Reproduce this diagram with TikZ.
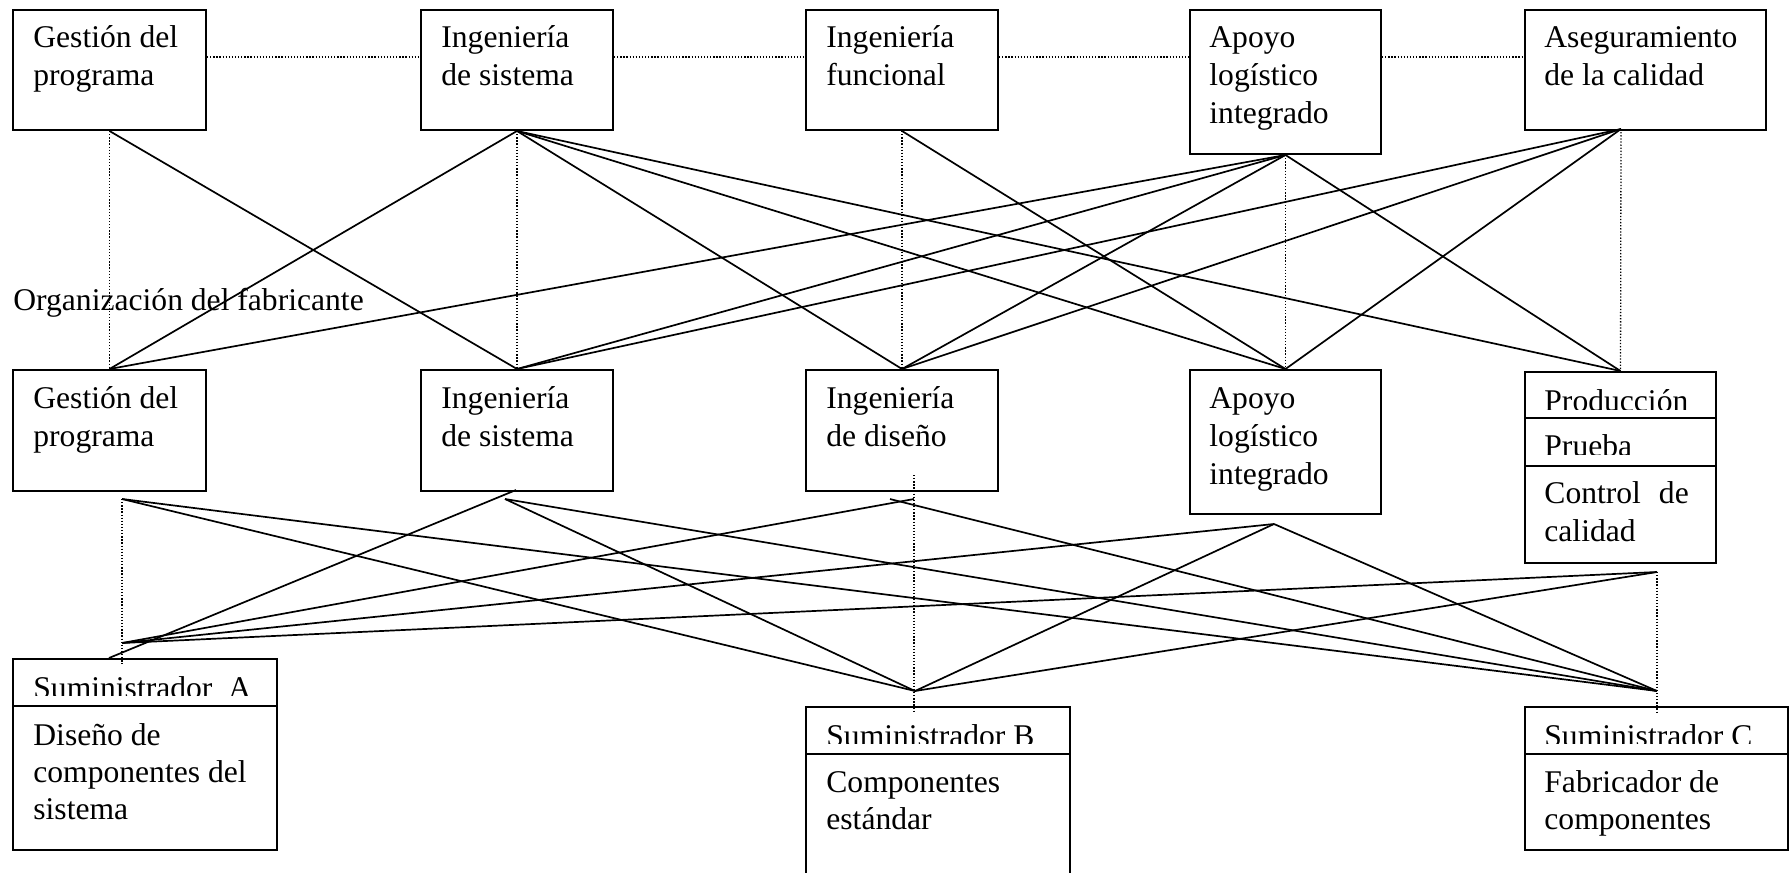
\documentclass[tikz,border=0pt]{standalone}
\usepackage{fontspec}
\setmainfont{Liberation Serif}
\begin{document}
\begin{tikzpicture}[x=0.5pt,y=-0.5pt,
  box/.style={draw, line width=1pt, rectangle, inner sep=0pt, anchor=north west},
  txt/.style={anchor=base west, inner sep=0pt, font=\fontsize{15.8pt}{19pt}\selectfont},
  txtb/.style={anchor=base west, inner sep=0pt, font=\fontsize{15.8pt}{18.5pt}\selectfont},
  conn/.style={line width=0.85pt},
  dotline/.style={line width=0.65pt, dash pattern=on 0.65pt off 0.9pt},
  divider/.style={line width=1pt}]
\fill[white] (0,0) rectangle (1792,872);
\clip (0,0) rectangle (1792,872);

% ---------- top row ----------
\node[box, minimum width=96.5pt, minimum height=60pt] (t1) at (12,9) {};
\node[box, minimum width=96pt, minimum height=60pt] (t2) at (420,9) {};
\node[box, minimum width=96pt, minimum height=60pt] (t3) at (805,9) {};
\node[box, minimum width=95.5pt, minimum height=72pt] (t4) at (1189,9) {};
\node[box, minimum width=120.5pt, minimum height=60pt] (t5) at (1524,9) {};
\coordinate (t5b) at (1621,129);

\node[txt] (t1t) at (33,48) {\parbox[t]{120pt}{Gestión del\\programa}};
\node[txt] (t2t) at (441,48) {\parbox[t]{120pt}{Ingeniería\\de sistema}};
\node[txt] (t3t) at (826,48) {\parbox[t]{120pt}{Ingeniería\\funcional}};
\node[txt] (t4t) at (1209,48) {\parbox[t]{120pt}{Apoyo\\logístico\\integrado}};
\node[txt] (t5t) at (1544,48) {\parbox[t]{120pt}{Aseguramiento\\de la calidad}};

\coordinate (hl) at (0,57);
\draw[dotline] (t1.east |- hl) -- (t2.west |- hl);
\draw[dotline] (t2.east |- hl) -- (t3.west |- hl);
\draw[dotline] (t3.east |- hl) -- (t4.west |- hl);
\draw[dotline] (t4.east |- hl) -- (t5.west |- hl);

\node[txt] (org) at (13,310) {Organización del fabricante};

% ---------- middle row ----------
\node[box, minimum width=96.5pt, minimum height=60.5pt] (m1) at (12,369) {};
\node[box, minimum width=96pt, minimum height=60.5pt] (m2) at (420,369) {};
\node[box, minimum width=96pt, minimum height=60.5pt] (m3) at (805,369) {};
\node[box, minimum width=95.5pt, minimum height=72pt] (m4) at (1189,369) {};
\node[box, minimum width=95.5pt, minimum height=95.5pt] (m5) at (1524,371) {};
\draw[divider] (m5.north west) ++(0,47) -- ++(191,0);
\draw[divider] (m5.north west) ++(0,95) -- ++(191,0);

\node[txt] (m1t) at (33,408) {\parbox[t]{120pt}{Gestión del\\programa}};
\node[txt] (m2t) at (441,408) {\parbox[t]{120pt}{Ingeniería\\de sistema}};
\node[txt] (m3t) at (826,408) {\parbox[t]{120pt}{Ingeniería\\de diseño}};
\node[txt] (m4t) at (1209,408) {\parbox[t]{120pt}{Apoyo\\logístico\\integrado}};
\begin{scope}
  \clip (1524,371) rectangle (1715,409);
  \node[txt] (m5p) at (1544,411) {Producción};
\end{scope}
\begin{scope}
  \clip (1524,418) rectangle (1715,454);
  \node[txt] (m5q) at (1544,456) {Prueba};
\end{scope}
\node[txt] (m5c) at (1544,503) {\parbox[t]{120pt}{Control\hspace{9pt}de\\calidad}};

% ---------- bottom row ----------
\node[box, minimum width=132pt, minimum height=95.5pt] (sa) at (12,658) {};
\node[box, minimum width=132pt, minimum height=110pt] (sb) at (805,706) {};
\node[box, minimum width=131.5pt, minimum height=71.5pt] (sc) at (1524,706) {};
\draw[divider] (sa.north west) ++(0,48) -- ++(264,0);
\draw[divider] (sb.north west) ++(0,48) -- ++(264,0);
\draw[divider] (sc.north west) ++(0,48) -- ++(263,0);

\begin{scope}
  \clip (12,658) rectangle (276,695);
  \node[txt] (sah) at (33,698) {Suministrador\hspace{8pt}A};
\end{scope}
\begin{scope}
  \clip (805,706) rectangle (1069,743);
  \node[txt] (sbh) at (826,746) {Suministrador B};
\end{scope}
\begin{scope}
  \clip (1524,706) rectangle (1787,743);
  \node[txt] (sch) at (1544,746) {Suministrador C};
\end{scope}
\node[txtb] (sat) at (33,745) {\parbox[t]{130pt}{Diseño de\\componentes del\\sistema}};
\node[txtb] (sbt) at (826,792) {\parbox[t]{130pt}{Componentes\\estándar}};
\node[txtb] (sct) at (1544,792) {\parbox[t]{130pt}{Fabricador de\\componentes}};

% ---------- upper connectors ----------
\draw[dotline] (t1.south) -- (m1.north);
\draw[dotline] (t2.south) -- (m2.north);
\draw[dotline] (t3.south) -- (m3.north);
\draw[dotline] (t4.south) -- (m4.north);
\draw[dotline] (t5b) -- (m5.north);

\draw[conn] (t1.south) -- (m2.north);
\draw[conn] (t2.south) -- (m1.north);
\draw[conn] (t2.south) -- (m3.north);
\draw[conn] (t2.south) -- (m4.north);
\draw[conn] (t2.south) -- (m5.north);
\draw[conn] (t3.south) -- (m4.north);
\draw[conn] (t4.south) -- (m1.north);
\draw[conn] (t4.south) -- (m2.north);
\draw[conn] (t4.south) -- (m3.north);
\draw[conn] (t4.south) -- (m5.north);
\draw[conn] (t5b) -- (m2.north);
\draw[conn] (t5b) -- (m3.north);
\draw[conn] (t5b) -- (m4.north);

% ---------- lower connectors ----------
\coordinate (m1b) at (122,499);
\coordinate (m2a) at (516,490);
\coordinate (m2b) at (505,499);
\coordinate (m3a) at (914,499);
\coordinate (m3b) at (890,499);
\coordinate (m3d) at (914,475);
\coordinate (m4b) at (1274,524);
\coordinate (m5b) at (1657,572);
\coordinate (aA) at (122,643);
\coordinate (aTop) at (109,658);
\coordinate (bB) at (915,691);
\coordinate (cC) at (1657,691);
\coordinate (aEnd) at (122,664);
\coordinate (bEnd) at (914,712);
\coordinate (cEnd) at (1657,712);

\draw[dotline] (m1b) -- (aEnd);
\draw[dotline] (m3d) -- (bEnd);
\draw[dotline] (m5b) -- (cEnd);

\draw[conn] (m1b) -- (bB);
\draw[conn] (m1b) -- (cC);
\draw[conn] (m2a) -- (aTop);
\draw[conn] (m2b) -- (bB);
\draw[conn] (m2b) -- (cC);
\draw[conn] (m3a) -- (aA);
\draw[conn] (m3b) -- (cC);
\draw[conn] (m4b) -- (aA);
\draw[conn] (m4b) -- (bB);
\draw[conn] (m4b) -- (cC);
\draw[conn] (m5b) -- (aA);
\draw[conn] (m5b) -- (bB);
\end{tikzpicture}
\end{document}
